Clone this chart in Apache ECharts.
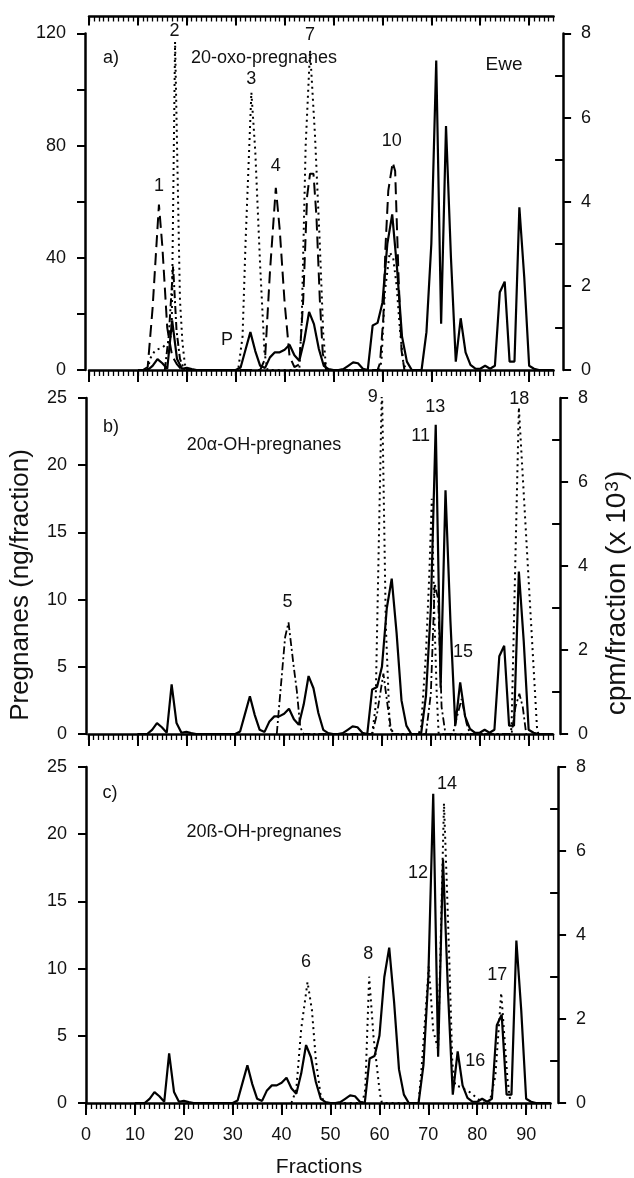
<!DOCTYPE html>
<html>
<head>
<meta charset="utf-8">
<title>Pregnane fractions</title>
<script src="https://cdn.jsdelivr.net/npm/echarts@6.0.0/dist/echarts.min.js"></script>
<style>
  html, body { margin: 0; padding: 0; background: #fff; }
  #chart { width: 634px; height: 1178px; }
</style>
</head>
<body>
<div id="chart"></div>
<script>
const FONT = '"Liberation Sans", Arial, sans-serif';

// fraction axis
const fractionLabels = [0, 10, 20, 30, 40, 50, 60, 70, 80, 90];
const fractionEnd = 95;
const fractionSteps = Array.from({ length: 96 }, (_, i) => i);
const oxoLabels = [0, 40, 80, 120];
const cpmMinor = [1, 3, 5, 7];

// radioactivity, cpm/fraction (x 10^3) - same profile in all panels
const cpmFractions = Array.from({ length: 86 }, (_, i) => 10 + i);
const cpmValues = [
  0, 0, 0, 0.1, 0.26, 0.16, 0.03, 1.18, 0.26, 0.03,
  0.05, 0.02, 0, 0, 0, 0, 0, 0, 0, 0,
  0, 0.06, 0.48, 0.9, 0.45, 0.1, 0.05, 0.3, 0.42, 0.42,
  0.48, 0.6, 0.35, 0.22, 0.7, 1.38, 1.09, 0.5, 0.1, 0.02,
  0, 0, 0.02, 0.1, 0.18, 0.16, 0.03, 0, 1.06, 1.12,
  1.6, 3.0, 3.7, 2.4, 0.8, 0.2, 0, 0, 0, 0.9,
  3.0, 7.36, 1.1, 5.8, 2.7, 0.2, 1.23, 0.42, 0.12, 0.03,
  0.03, 0.1, 0.03, 0.1, 1.85, 2.1, 0.2, 0.2, 3.87, 2.2,
  0.1, 0.03, 0, 0, 0, 0
];

// a) 20-oxo-pregnanes, ng/fraction
const oxoDashed = [
  [11, 0], [12, 1], [13, 22], [14.3, 59], [15, 44], [16, 15], [17, 5], [18, 2], [19, 0],
  [35, 0], [36, 4], [37, 35], [38.2, 65], [39, 50], [40, 24], [41, 5], [42, 1],
  [43, 2], [43.8, 25], [44.6, 62], [45.2, 70], [45.9, 70], [46.5, 55], [47.2, 25], [47.8, 6], [48.5, 0],
  [59, 0], [59.5, 2.4], [60.2, 19], [60.6, 43], [61.2, 64], [62.1, 74], [62.6, 71], [63.3, 33], [63.9, 7], [64.5, 0]
];
const oxoDotted = [
  [12, 0], [12.5, 4], [13.5, 7], [15, 8], [16.3, 10], [16.9, 13], [17.6, 117], [18.6, 25], [19.1, 10], [19.6, 2], [20.2, 0],
  [30.5, 0], [31.4, 12], [32, 45], [33.2, 99], [34, 78], [35, 37], [35.9, 6], [36.5, 0],
  [43, 0], [43.5, 18], [44.3, 80], [45.2, 114], [46.2, 84], [47.1, 49], [47.9, 13], [48.5, 0],
  [59.3, 0], [59.8, 3], [60.5, 28], [61.5, 42], [62.2, 40], [62.9, 30], [63.6, 14], [64.3, 2], [65, 0]
];
const oxoDashDot = [
  [15.5, 0], [16.3, 12], [17.2, 37], [17.9, 14], [18.6, 4], [19.5, 0]
];
const oxoPeaks = [
  ['1', 14.3, 65.5], ['2', 17.5, 120.8], ['3', 33.2, 103.6], ['4', 38.2, 72.6],
  ['7', 45.2, 119.6], ['10', 61.9, 81.5], ['P', 28.2, 10.7]
];

// b) 20alpha-OH-pregnanes, ng/fraction
const alphaDotted = [
  [58, 0], [58.7, 2], [60, 26], [60.8, 8], [61.6, 0.5], [62.5, 0],
  [67.5, 0], [68, 0.5], [69, 6], [69.7, 12], [70.2, 17.5], [70.7, 9], [71.2, 3], [71.6, 0],
  [86.3, 0], [86.5, 0.5], [88, 24.3], [91.7, 0.5], [92, 0]
];
const alphaDashDot = [
  [38.5, 0], [38.8, 1.3], [40.2, 7.2], [40.9, 8.3], [41.9, 5.2], [42.6, 3.2], [43.3, 0.5], [44, 0],
  [58, 0], [59, 1.5], [60.3, 4.5], [61.2, 2], [62, 0],
  [69, 0], [70, 3], [70.8, 11.2], [71.5, 10], [72.2, 2], [73, 0],
  [74.5, 0], [75.5, 1.5], [76.3, 2.6], [77.3, 0.8], [78, 0],
  [86.5, 0], [87.3, 2], [88.1, 3], [88.8, 2], [89.5, 0]
];
const alphaPeaks = [
  ['5', 40.7, 9.8], ['9', 58.1, 25.1], ['11', 67.9, 22.2], ['13', 70.9, 24.3],
  ['15', 76.6, 6.1], ['18', 88.1, 24.9]
];

// c) 20beta-OH-pregnanes, ng/fraction
const betaDotted = [
  [42, 0], [43, 1], [44, 5.5], [45.3, 9], [46.2, 6.9], [47, 3.2], [48, 0.5], [49, 0],
  [56.5, 0], [57.1, 1], [57.9, 9.4], [58.8, 4.9], [60.1, 0.7], [60.5, 0],
  [68, 0], [68.6, 2.5], [70.1, 10.2], [71, 5.4], [72, 4], [73.2, 22.3], [73.8, 16], [74.3, 10.5],
  [74.9, 3], [75.5, 1.3], [76.5, 1.2], [77.5, 1], [78.5, 0.8], [79.5, 0.5], [80.5, 0.2], [81.5, 0],
  [82.5, 0], [83.7, 2], [84.9, 8.2], [86.2, 1.7], [86.8, 0]
];
const betaPeaks = [
  ['6', 45.0, 10.5], ['8', 57.7, 11.1], ['12', 67.9, 17.1], ['14', 73.8, 23.7],
  ['16', 79.6, 3.1], ['17', 84.1, 9.5]
];

const DASHED = [12, 6];
const DOTTED = [2, 4];
const DASHDOT = [8, 3, 2, 3];

const panels = [
  { grid: { left: 89, top: 33.5, width: 464.6, height: 336.5 }, yMax: 120, yStep: 20, yLabels: oxoLabels,
    leftOffset: 4, rightOffset: 9.5, topAxis: true, xLabels: false },
  { grid: { left: 88.5, top: 398, width: 464.6, height: 336 }, yMax: 25, yStep: 5, yLabels: null,
    leftOffset: 2.5, rightOffset: 7, topAxis: false, xLabels: false },
  { grid: { left: 86, top: 767, width: 464.6, height: 336 }, yMax: 25, yStep: 5, yLabels: null,
    leftOffset: 0, rightOffset: 7.5, topAxis: false, xLabels: true }
];

function fractionAxis(g, position, offset, inside, tickLen, tickValues, showLabels, minor) {
  return {
    gridIndex: g, type: 'value', position: position, offset: offset, min: 0, max: fractionEnd,
    axisLine: { show: !minor, onZero: false, lineStyle: { color: '#000', width: 2.5 } },
    axisTick: { show: true, inside: inside, length: tickLen, customValues: tickValues,
      lineStyle: { color: '#000', width: minor ? 1.3 : 2 } },
    minorTick: { show: false },
    axisLabel: { show: showLabels, customValues: fractionLabels, margin: 23, fontSize: 18,
      color: '#111', fontFamily: FONT },
    splitLine: { show: false }
  };
}

const grid = [], xAxis = [], yAxis = [], series = [];
const axes = panels.map((p, g) => {
  grid.push(Object.assign({ containLabel: false, outerBoundsMode: 'none' }, p.grid));
  const x = xAxis.length;
  xAxis.push(fractionAxis(g, 'bottom', 0, false, 12, fractionLabels, p.xLabels, false));
  xAxis.push(fractionAxis(g, 'bottom', 0, false, 6, fractionSteps, false, true));
  if (p.topAxis) {
    xAxis.push(fractionAxis(g, 'top', 17, true, 9, fractionLabels, false, false));
    xAxis.push(fractionAxis(g, 'top', 17, true, 5, fractionSteps, false, true));
  }
  const yl = yAxis.length;
  yAxis.push({
    gridIndex: g, type: 'value', position: 'left', offset: p.leftOffset, min: 0, max: p.yMax, interval: p.yStep,
    axisLine: { show: true, onZero: false, lineStyle: { color: '#000', width: 2.5 } },
    axisTick: { show: true, length: 8, lineStyle: { color: '#000', width: 2 } },
    axisLabel: Object.assign({ margin: 19, fontSize: 18, color: '#111', fontFamily: FONT },
      p.yLabels ? { customValues: p.yLabels } : {}),
    splitLine: { show: false }
  });
  yAxis.push({
    gridIndex: g, type: 'value', position: 'right', offset: p.rightOffset, min: 0, max: 8, interval: 2,
    axisLine: { show: true, onZero: false, lineStyle: { color: '#000', width: 2.5 } },
    axisTick: { show: true, length: 8, lineStyle: { color: '#000', width: 2 } },
    axisLabel: { margin: 18, fontSize: 18, color: '#111', fontFamily: FONT },
    splitLine: { show: false }
  });
  yAxis.push({
    gridIndex: g, type: 'value', position: 'right', offset: p.rightOffset, min: 0, max: 8,
    axisLine: { show: false, onZero: false },
    axisTick: { show: true, inside: true, length: 8, customValues: cpmMinor, lineStyle: { color: '#000', width: 2 } },
    axisLabel: { show: false },
    splitLine: { show: false }
  });
  return { x: x, yl: yl, yr: yl + 1 };
});

function curve(a, yIndex, pts, dash, width) {
  return {
    type: 'line', xAxisIndex: a.x, yAxisIndex: yIndex, data: pts, symbol: 'none', silent: true,
    lineStyle: { color: '#000', width: width, type: dash }, z: 2
  };
}
function peakLabels(a, list) {
  return {
    type: 'scatter', xAxisIndex: a.x, yAxisIndex: a.yl, silent: true, clip: false,
    symbolSize: 1, itemStyle: { color: '#fff', opacity: 1 },
    data: list.map(d => ({ name: d[0], value: [d[1], d[2]] })),
    label: { show: true, position: 'inside', formatter: p => p.name, fontSize: 18,
      color: '#111', textBorderWidth: 0, textShadowBlur: 0, fontFamily: FONT },
    emphasis: { disabled: true }, z: 5
  };
}

const cpmProfile = cpmFractions.map((f, i) => [f, cpmValues[i]]);

// panel a
series.push(curve(axes[0], axes[0].yl, oxoDashed, DASHED, 2));
series.push(curve(axes[0], axes[0].yl, oxoDotted, DOTTED, 2));
series.push(curve(axes[0], axes[0].yl, oxoDashDot, DASHDOT, 2));
series.push(curve(axes[0], axes[0].yr, cpmProfile, 'solid', 2.2));
series.push(peakLabels(axes[0], oxoPeaks));
// panel b
series.push(curve(axes[1], axes[1].yl, alphaDotted, DOTTED, 2));
series.push(curve(axes[1], axes[1].yl, alphaDashDot, DASHDOT, 1.8));
series.push(curve(axes[1], axes[1].yr, cpmProfile, 'solid', 2.2));
series.push(peakLabels(axes[1], alphaPeaks));
// panel c
series.push(curve(axes[2], axes[2].yl, betaDotted, DOTTED, 2));
series.push(curve(axes[2], axes[2].yr, cpmProfile, 'solid', 2.2));
series.push(peakLabels(axes[2], betaPeaks));

function txt(text, x, y, size, rot, rich) {
  return {
    type: 'text', x: x, y: y, rotation: rot || 0, silent: true,
    style: { text: text, fontSize: size, fontFamily: FONT, fill: '#111', rich: rich,
      textAlign: 'center', textVerticalAlign: 'middle', align: 'center', verticalAlign: 'middle' }
  };
}

const chart = echarts.init(document.getElementById('chart'));
chart.setOption({
  animation: false,
  backgroundColor: '#fff',
  textStyle: { fontFamily: FONT },
  grid: grid,
  xAxis: xAxis,
  yAxis: yAxis,
  series: series,
  graphic: [
    txt('a)', 111, 58, 18),
    txt('20-oxo-pregnanes', 264, 58, 18),
    txt('Ewe', 504, 65, 19),
    txt('b)', 111, 427, 18),
    txt('20\u03b1-OH-pregnanes', 264, 445, 18),
    txt('c)', 110, 793, 18),
    txt('20\u00df-OH-pregnanes', 264, 832, 18),
    txt('Fractions', 319, 1167, 21),
    txt('Pregnanes (ng/fraction)', 21, 585, 26, Math.PI / 2),
    txt('{m|cpm/fraction (x 10}{s|3}{m|)}', 617, 593, 28, Math.PI / 2, {
      m: { fontSize: 28, fontFamily: FONT, fill: '#111', color: '#111' },
      s: { fontSize: 19, fontFamily: FONT, fill: '#111', color: '#111', verticalAlign: 'top', padding: [0, 1, 0, 1] }
    })
  ]
});
</script>
</body>
</html>
